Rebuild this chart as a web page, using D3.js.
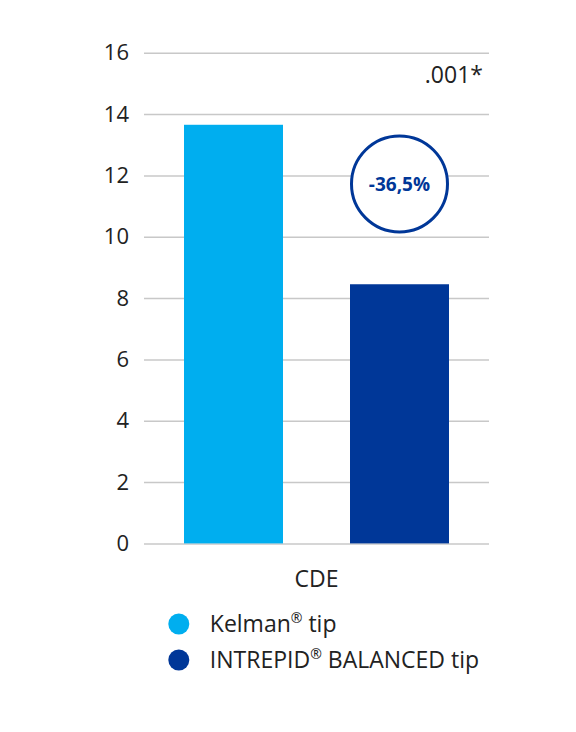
<!DOCTYPE html>
<html><head><meta charset="utf-8">
<script src="https://cdn.jsdelivr.net/npm/d3@7"></script>
<style>body{margin:0;background:#fff;} svg{display:block;font-family:"Open Sans",sans-serif;}</style>
</head><body><svg id="c" width="576" height="732"></svg>
<script>
const category = "CDE";
const seriesNames = ["Kelman® tip", "INTREPID® BALANCED tip"];
const seriesValues = [13.65, 8.45];
const seriesColors = ["#00AEEF", "#003798"];
const yTicks = [0, 2, 4, 6, 8, 10, 12, 14, 16];
const pValue = ".001*";
const changeLabel = "-36,5%";

const svg = d3.select("#c");
const y = d3.scaleLinear().domain([0, 16]).range([543.4, 52.7]);
const x = d3.scaleBand().domain(seriesNames).range([184, 449]).paddingInner(0.4036).paddingOuter(0);
const gridX0 = 144, gridX1 = 489;

// gridlines + tick labels
const yAxis = d3.axisLeft(y).tickValues(yTicks).tickSize(-(gridX1 - gridX0)).tickPadding(15).tickFormat(d3.format("d"));
const g = svg.append("g").attr("transform", `translate(${gridX0},0)`).call(yAxis);
g.select(".domain").remove();
g.selectAll(".tick line").attr("stroke", "#c8c8c8").attr("stroke-width", 1.5);
g.selectAll(".tick text").attr("font-size", 22).attr("fill", "#222").attr("font-family", "Open Sans");

// bars
svg.append("g").selectAll("rect").data(seriesValues).join("rect")
  .attr("x", (d, i) => x(seriesNames[i]))
  .attr("width", x.bandwidth())
  .attr("y", d => y(d))
  .attr("height", d => y(0) - y(d))
  .attr("fill", (d, i) => seriesColors[i]);

// p-value
svg.append("text").attr("x", gridX1 - 6).attr("y", 83).attr("text-anchor", "end")
  .attr("font-size", 23).attr("fill", "#222").text(pValue);

// change circle
const cx = x(seriesNames[1]) + x.bandwidth() / 2;
const cy = y(11.72);
svg.append("circle").attr("cx", cx).attr("cy", cy).attr("r", 48)
  .attr("fill", "#fff").attr("stroke", seriesColors[1]).attr("stroke-width", 3);
svg.append("text").attr("x", cx).attr("y", cy + 7).attr("text-anchor", "middle")
  .attr("font-size", 19).attr("font-weight", 700).attr("fill", seriesColors[1]).text(changeLabel);

// category label
svg.append("text").attr("x", (x(seriesNames[0]) + x(seriesNames[1]) + x.bandwidth()) / 2).attr("y", 587)
  .attr("text-anchor", "middle").attr("font-size", 23).attr("fill", "#222").text(category);

// legend
const leg = svg.append("g").selectAll("g").data(seriesNames).join("g")
  .attr("transform", (d, i) => `translate(178.8,${624 + i * 36})`);
leg.append("circle").attr("r", 10.5).attr("fill", (d, i) => seriesColors[i]);
leg.append("text").attr("x", 31).attr("y", 8).attr("font-size", 23).attr("fill", "#222")
  .each(function(d) {
    const parts = d.split("®");
    const t = d3.select(this);
    t.append("tspan").text(parts[0]);
    t.append("tspan").attr("font-size", 14).attr("dy", -9).text("®");
    t.append("tspan").attr("dy", 9).text(parts[1]);
  });
</script></body></html>
